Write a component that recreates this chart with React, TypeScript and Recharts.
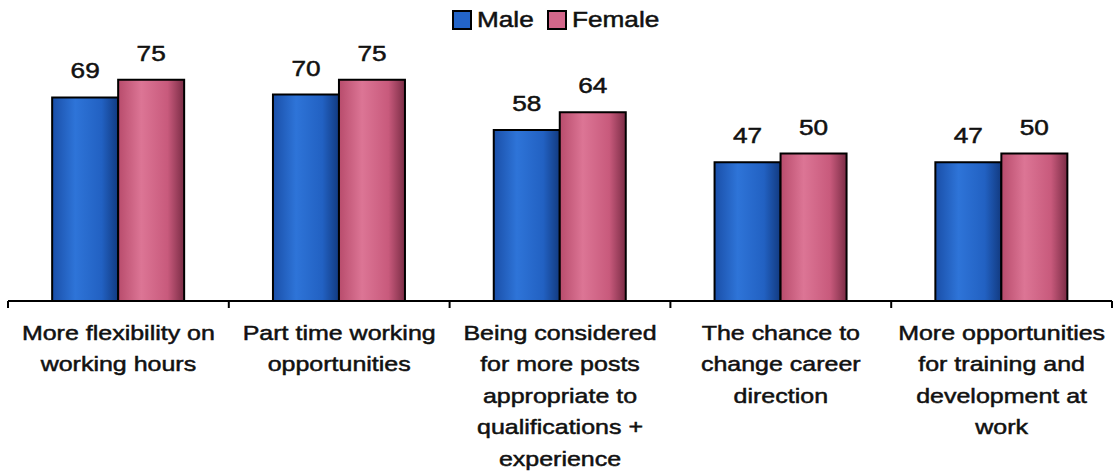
import { BarChart, Bar, XAxis, YAxis, LabelList } from 'recharts';

const categories = [
  'More flexibility on\nworking hours',
  'Part time working\nopportunities',
  'Being considered\nfor more posts\nappropriate to\nqualifications +\nexperience',
  'The chance to\nchange career\ndirection',
  'More opportunities\nfor training and\ndevelopment at\nwork',
];
const maleValues = [69, 70, 58, 47, 47];
const femaleValues = [75, 75, 64, 50, 50];

const FONT = 'Arial, "Liberation Sans", sans-serif';
const STRETCH = 1.19;

const chartData = categories.map((name, i) => ({
  name,
  male: maleValues[i],
  female: femaleValues[i],
}));

function CategoryTick(props: any) {
  const { x, y, payload, width, visibleTicksCount } = props;
  const count = visibleTicksCount || categories.length;
  const bw = (width || 1104) / count;
  const lines = String(payload.value).split('\n');
  const isLast = payload.index === count - 1;
  return (
    <g>
      <line x1={x - bw / 2} y1={y - 8} x2={x - bw / 2} y2={y - 1} stroke="#000" strokeWidth={2} />
      {isLast && (
        <line x1={x + bw / 2} y1={y - 8} x2={x + bw / 2} y2={y - 1} stroke="#000" strokeWidth={2} />
      )}
      <g transform={`translate(${x},${y}) scale(${STRETCH},1)`}>
        <text
          x={0}
          y={0}
          textAnchor="middle"
          fontFamily={FONT}
          fontSize={21}
          fill="#111"
          stroke="#111"
          strokeWidth={0.5}
        >
          {lines.map((line, i) => (
            <tspan key={i} x={0} dy={i === 0 ? 31 : 31.5}>
              {line}
            </tspan>
          ))}
        </text>
      </g>
    </g>
  );
}

function ValueLabel(props: any) {
  const { x, y, width, value } = props;
  const cx = x + width / 2;
  return (
    <g transform={`translate(${cx},${y - 19}) scale(${STRETCH},1)`}>
      <text
        x={0}
        y={0}
        textAnchor="middle"
        fontFamily={FONT}
        fontSize={22}
        fill="#111"
        stroke="#111"
        strokeWidth={0.5}
      >
        {value}
      </text>
    </g>
  );
}

function LegendBox() {
  const item = (label: string, fill: string) => (
    <span style={{ display: 'inline-flex', alignItems: 'center', marginRight: 12 }}>
      <span
        style={{
          display: 'inline-block',
          width: 16,
          height: 16,
          background: fill,
          border: '2px solid #000',
          marginRight: 5,
        }}
      />
      <span style={{ display: 'inline-block', transform: `scaleX(${STRETCH})`, transformOrigin: 'left center', marginRight: label.length * 2.6, WebkitTextStroke: '0.5px #111' }}>
        {label}
      </span>
    </span>
  );
  return (
    <div
      style={{
        position: 'absolute',
        top: 7,
        left: 6,
        width: 1113,
        textAlign: 'center',
        fontFamily: FONT,
        fontSize: 22,
        color: '#111',
      }}
    >
      {item('Male', '#2364c8')}
      {item('Female', '#d3668a')}
    </div>
  );
}

export default function App() {
  return (
    <div style={{ position: 'absolute', left: 0, top: 0, width: 1113, height: 476, background: '#fff' }}>
      <BarChart
        width={1113}
        height={476}
        data={chartData}
        margin={{ top: 6, right: 1, bottom: 0, left: 8 }}
        barCategoryGap="20%"
        barGap={0}
      >
        <defs>
          <linearGradient id="maleGrad" x1="0" y1="0" x2="1" y2="0">
            <stop offset="0%" stopColor="#1a4fa8" />
            <stop offset="35%" stopColor="#2e74d8" />
            <stop offset="75%" stopColor="#2261c2" />
            <stop offset="100%" stopColor="#123a80" />
          </linearGradient>
          <linearGradient id="femaleGrad" x1="0" y1="0" x2="1" y2="0">
            <stop offset="0%" stopColor="#b84c6c" />
            <stop offset="35%" stopColor="#dc7595" />
            <stop offset="75%" stopColor="#c85a7c" />
            <stop offset="100%" stopColor="#7a2c45" />
          </linearGradient>
        </defs>
        <XAxis
          dataKey="name"
          interval={0}
          height={175}
          tickLine={false}
          axisLine={{ stroke: '#000', strokeWidth: 2 }}
          tick={<CategoryTick />}
        />
        <YAxis hide domain={[0, 100]} />
        <Bar dataKey="male" fill="url(#maleGrad)" stroke="#000" strokeWidth={2} isAnimationActive={false}>
          <LabelList dataKey="male" content={<ValueLabel />} />
        </Bar>
        <Bar dataKey="female" fill="url(#femaleGrad)" stroke="#000" strokeWidth={2} isAnimationActive={false}>
          <LabelList dataKey="female" content={<ValueLabel />} />
        </Bar>
      </BarChart>
      <LegendBox />
    </div>
  );
}
